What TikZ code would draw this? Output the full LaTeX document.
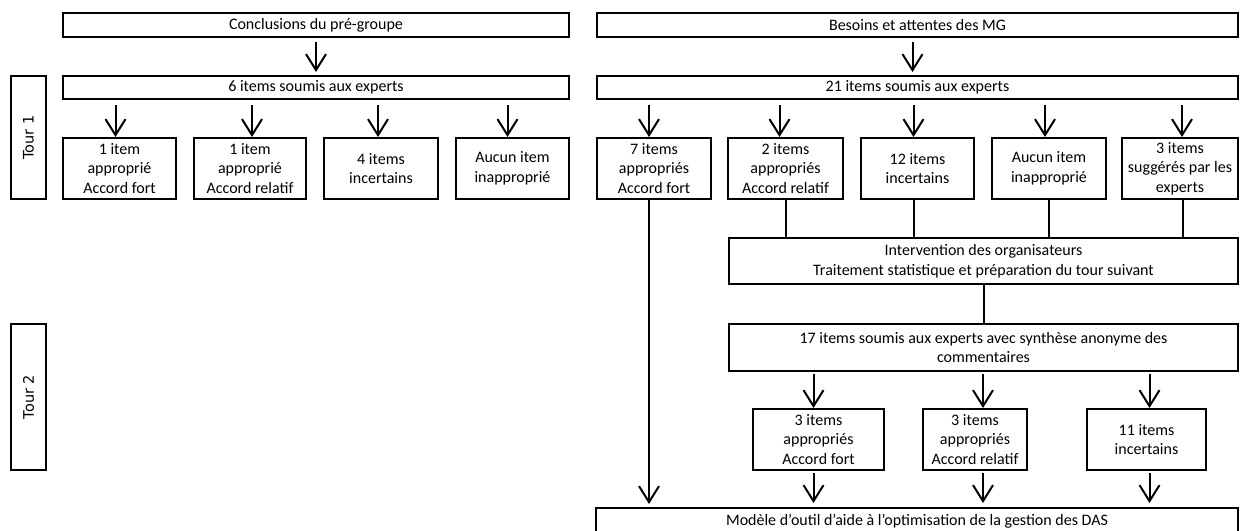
\documentclass[tikz,border=0pt]{standalone}
\usepackage{fontspec}
\setmainfont{Carlito}
\newfontfamily\tourfont{DejaVu Sans}
\usetikzlibrary{arrows.meta}
\newcommand{\bxfont}{\fontsize{16}{19.5}\selectfont}
\tikzset{
  box/.style={draw, line width=2pt, inner sep=0pt, align=center, font=\bxfont},
  tourbox/.style={draw, line width=2pt, inner sep=0pt},
  arr/.style={line width=2pt, -{Straight Barb[length=16pt,width=20pt]}},
  ln/.style={line width=2pt},
}
% \bx{name}{x1}{y1}{x2}{y2}{text}
\newcommand{\bx}[6]{\node[box, minimum width={(#4-#2)*1pt}, minimum height={(#5-#3)*1pt}] (#1) at ({(#2+#4)/2},{(#3+#5)/2}) {#6};}
\begin{document}
\begin{tikzpicture}[x=1pt,y=-1pt]
\useasboundingbox (0,0) rectangle (1241,530);
% Tour boxes
\node[tourbox, minimum width=35pt, minimum height=123pt] (t1) at (28.5,137.5) {};
\node[rotate=90, font=\tourfont\fontsize{14.5}{16}\selectfont] (t1l) at (t1.center) {Tour 1};
\node[tourbox, minimum width=35pt, minimum height=146pt] (t2) at (28.5,397) {};
\node[rotate=90, font=\tourfont\fontsize{14.5}{16}\selectfont] (t2l) at (t2.center) {Tour 2};
% Left column
\bx{concl}{63}{13}{569}{37}{Conclusions du pré-groupe}
\bx{six}{63}{76}{569}{99}{6 items soumis aux experts}
\bx{la}{63}{138}{176}{199}{1 item\\approprié\\Accord fort}
\bx{lb}{194}{138}{306}{199}{1 item\\approprié\\Accord relatif}
\bx{lc}{324}{138}{438}{199}{4 items\\incertains}
\bx{ld}{456}{138}{569}{199}{Aucun item\\inapproprié}
% Right column
\bx{bes}{597}{13}{1238}{37}{Besoins et attentes des MG}
\bx{vingt}{597}{76}{1238}{99}{21 items soumis aux experts}
\bx{ra}{597}{138}{711}{199}{7 items\\appropriés\\Accord fort}
\bx{rb}{728}{138}{843}{199}{2 items\\appropriés\\Accord relatif}
\bx{rc}{861}{138}{974}{199}{12 items\\incertains}
\bx{rd}{992}{138}{1106}{199}{Aucun item\\inapproprié}
\bx{re}{1122}{138}{1238}{199}{3 items\\suggérés par les\\experts}
\bx{inter}{729}{238}{1238}{284}{Intervention des organisateurs\\Traitement statistique et préparation du tour suivant}
\bx{dixsept}{729}{324}{1238}{371}{17 items soumis aux experts avec synthèse anonyme des\\commentaires}
\bx{ca}{753}{409}{884}{470}{3 items\\appropriés\\Accord fort}
\bx{cb}{923}{409}{1027}{470}{3 items\\appropriés\\Accord relatif}
\bx{cc}{1087}{409}{1206}{470}{11 items\\incertains}
\bx{fin}{596}{508}{1238}{534}{Modèle d’outil d’aide à l’optimisation de la gestion des DAS}
% Left arrows
\draw[arr, shorten <=4pt, shorten >=3pt] (concl.south) -- (six.north);
\draw[arr, shorten <=5pt] ([xshift=-4pt]la.north |- six.south) -- ([xshift=-4pt]la.north);
\draw[arr, shorten <=5pt] ([xshift=2pt]lb.north |- six.south) -- ([xshift=2pt]lb.north);
\draw[arr, shorten <=5pt] ([xshift=-3pt]lc.north |- six.south) -- ([xshift=-3pt]lc.north);
\draw[arr, shorten <=5pt] ([xshift=-5pt]ld.north |- six.south) -- ([xshift=-5pt]ld.north);
% Right arrows
\draw[arr, shorten <=4pt, shorten >=3pt] ([xshift=-5pt]bes.south) -- ([xshift=-5pt]vingt.north);
\draw[arr, shorten <=5pt] ([xshift=-5pt]ra.north |- vingt.south) -- ([xshift=-5pt]ra.north);
\draw[arr, shorten <=5pt] ([xshift=-6pt]rb.north |- vingt.south) -- ([xshift=-6pt]rb.north);
\draw[arr, shorten <=5pt] ([xshift=-4pt]rc.north |- vingt.south) -- ([xshift=-4pt]rc.north);
\draw[arr, shorten <=5pt] ([xshift=-4pt]rd.north |- vingt.south) -- ([xshift=-4pt]rd.north);
\draw[arr, shorten <=5pt] ([xshift=2pt]re.north |- vingt.south) -- ([xshift=2pt]re.north);
% lines to intervention
\draw[ln] (rb.south) -- (rb.south |- inter.north);
\draw[ln] ([xshift=-4pt]rc.south) -- ([xshift=-4pt]rc.south |- inter.north);
\draw[ln] (rd.south) -- (rd.south |- inter.north);
\draw[ln] ([xshift=3pt]re.south) -- ([xshift=3pt]re.south |- inter.north);
\draw[ln] (inter.south) -- (dixsept.north);
% long arrow
\draw[arr, shorten >=3pt] ([xshift=-5pt]ra.south) -- ([xshift=-5pt]ra.south |- fin.north);
% Tour 2 arrows
\draw[arr, shorten <=2pt] ([xshift=-5pt]ca.north |- dixsept.south) -- ([xshift=-5pt]ca.north);
\draw[arr, shorten <=2pt] ([xshift=8pt]cb.north |- dixsept.south) -- ([xshift=8pt]cb.north);
\draw[arr, shorten <=2pt] ([xshift=3pt]cc.north |- dixsept.south) -- ([xshift=3pt]cc.north);
\draw[arr, shorten <=2pt, shorten >=4pt] ([xshift=-5pt]ca.south) -- ([xshift=-5pt]ca.south |- fin.north);
\draw[arr, shorten <=2pt, shorten >=4pt] ([xshift=8pt]cb.south) -- ([xshift=8pt]cb.south |- fin.north);
\draw[arr, shorten <=2pt, shorten >=4pt] ([xshift=3pt]cc.south) -- ([xshift=3pt]cc.south |- fin.north);
\end{tikzpicture}
\end{document}
